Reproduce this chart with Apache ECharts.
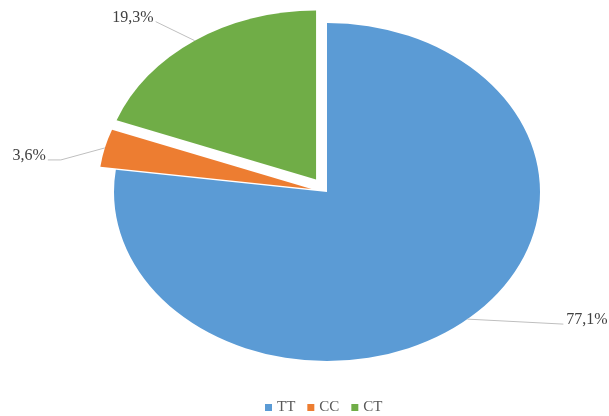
<!DOCTYPE html>
<html><head><meta charset="utf-8">
<script src="https://cdn.jsdelivr.net/npm/echarts@6/dist/echarts.min.js"></script>
<style>html,body{margin:0;padding:0;background:#fff}#chart{width:609px;height:416px}</style>
</head><body><div id="chart"></div>
<script>
// genotype shares (%)
const categories = ['TT', 'CC', 'CT'];
const shares = [77.1, 3.6, 19.3];
const colors = ['#5B9BD5', '#ED7D31', '#70AD47'];

// how far each slice is pulled out, as a fraction of the radius
const explode = [0, 0.075, 0.09];
// leader line routes, relative to the midpoint of each slice's arc
const leaders = [
  {knee: null, end: [96, 5], align: 'left'},
  {knee: [-44, 12], end: [-57, 12], align: 'right'},
  {knee: null, end: [-39, -19], align: 'right'}
];
// elliptical pie frame
const pie = {cx: 327, cy: 192, rx: 213, ry: 169};

const total = shares.reduce((a, b) => a + b, 0);
const starts = [];
let acc = 0;
shares.forEach(v => { starts.push(acc); acc += v; });

function fmt(v) { return v.toFixed(1).replace('.', ',') + '%'; }

function renderSlice(i) {
  return function (params, api) {
    const v = api.value(0);
    const a0 = starts[i] / total * 2 * Math.PI;
    const a1 = a0 + v / total * 2 * Math.PI;
    const mid = (a0 + a1) / 2;
    const ux = Math.sin(mid), uy = -Math.cos(mid);
    const ox = pie.cx + ux * explode[i] * pie.rx;
    const oy = pie.cy + uy * explode[i] * pie.ry;
    const ax = ox + ux * pie.rx, ay = oy + uy * pie.ry;
    const L = leaders[i];
    const pts = [[ax, ay]];
    if (L.knee) pts.push([ax + L.knee[0], ay + L.knee[1]]);
    const ex = ax + L.end[0], ey = ay + L.end[1];
    pts.push([ex, ey]);
    return {
      type: 'group',
      children: [
        {
          type: 'sector', x: ox, y: oy, scaleX: pie.rx / pie.ry,
          shape: {cx: 0, cy: 0, r0: 0, r: pie.ry, startAngle: a0 - Math.PI / 2, endAngle: a1 - Math.PI / 2, clockwise: true},
          style: {fill: colors[i]}
        },
        {type: 'polyline', shape: {points: pts}, style: {stroke: '#BFBFBF', lineWidth: 1, fill: null}},
        {
          type: 'text', x: L.align === 'left' ? ex + 3 : ex - 2, y: ey - 4,
          style: {text: fmt(v), fill: '#404040', fontSize: 16, fontFamily: 'Liberation Serif', align: L.align, verticalAlign: 'middle'}
        }
      ]
    };
  };
}

const chart = echarts.init(document.getElementById('chart'));
chart.setOption({
  animation: false,
  color: colors,
  legend: {
    data: categories, left: 265, top: 400, padding: 0, icon: 'rect',
    itemWidth: 7, itemHeight: 7, itemGap: 12,
    textStyle: {fontFamily: 'Liberation Serif', fontSize: 15, color: '#595959'}
  },
  series: categories.map((name, i) => ({
    type: 'custom', name, coordinateSystem: 'none',
    data: [[shares[i]]],
    itemStyle: {color: colors[i]},
    renderItem: renderSlice(i),
    silent: true
  }))
});
</script>
</body></html>
